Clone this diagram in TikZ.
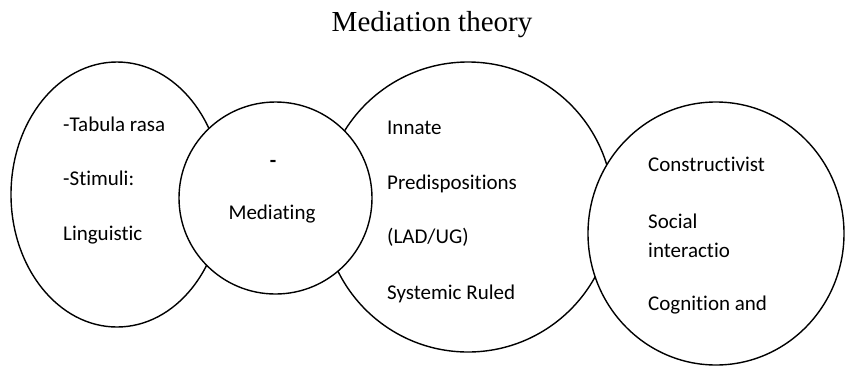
\documentclass[tikz,border=0pt]{standalone}
\usepackage{fontspec}
\usepackage{tikz}
\usetikzlibrary{shapes.geometric}
\setmainfont{Carlito}[Ligatures=NoCommon]
\newfontfamily\titlefont{Liberation Serif}
\tikzset{
  bubble/.style={ellipse, draw=black, line width=1.4pt, fill=white, inner sep=0pt},
  txt/.style={anchor=base west, inner sep=0pt, font=\fontsize{21}{25}\selectfont},
}

\begin{document}
\begin{tikzpicture}[x=1pt, y=-1pt]
    \useasboundingbox (0,0) rectangle (845,365);
    \clip (0,0) rectangle (845,365);
    \node[anchor=base, inner sep=0pt, font=\titlefont\fontsize{29}{34}\selectfont] (title) at (432,31) {Mediation theory};
    \node[bubble, minimum width=212pt, minimum height=265pt] (behav) at (117,194.5) {};
    \node[bubble, minimum width=290pt, minimum height=290pt] (nativ) at (468,207) {};
    \node[bubble, minimum width=193pt, minimum height=192pt] (medc) at (275.5,198) {};
    \node[bubble, minimum width=256pt, minimum height=263pt] (cons) at (716,233.5) {};
    \node[txt] (tabula) at (63,131) {-Tabula rasa};
    \node[txt] (stimuli) at (63,185) {-Stimuli:};
    \node[txt] (ling) at (63,240) {Linguistic};
    \node[txt, anchor=base] (dash) at (273,167) {\textbf{-}};
    \node[txt, anchor=base] (mediating) at (272,219) {Mediating};
    \node[txt] (innate) at (387,134) {Innate};
    \node[txt] (predis) at (387,189) {Predispositions};
    \node[txt] (lad) at (387,243) {(LAD/UG)};
    \node[txt] (sysrule) at (387,299) {Systemic Ruled};
    \node[txt] (constr) at (648,171) {Constructivist};
    \node[txt] (social) at (648,228) {Social};
    \node[txt] (interact) at (648,257) {interactio};
    \node[txt] (cognit) at (648,310) {Cognition and};
\end{tikzpicture}
\end{document}
